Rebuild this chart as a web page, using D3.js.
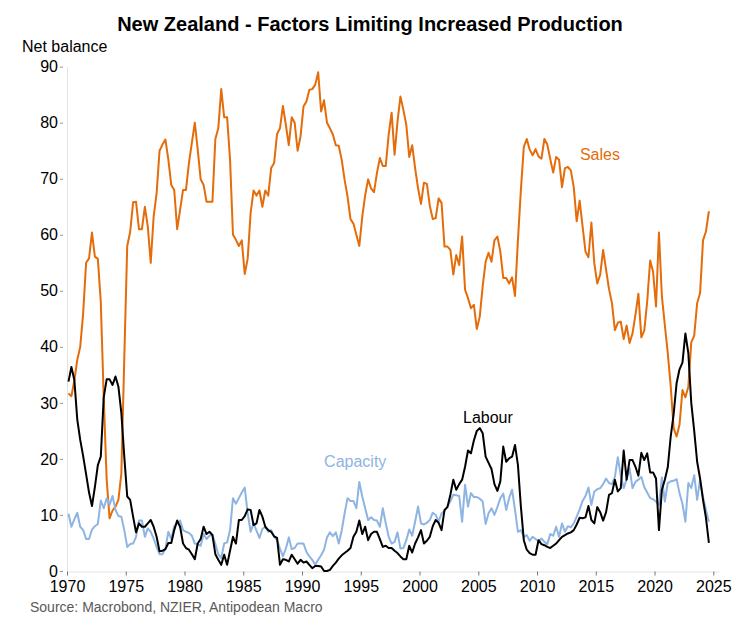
<!DOCTYPE html>
<html>
<head>
<meta charset="utf-8">
<script src="https://cdn.jsdelivr.net/npm/d3@7"></script>
<style>
  html, body { margin: 0; padding: 0; background: #fff; }
  svg { display: block; font-family: "Liberation Sans", Arial, sans-serif; }
</style>
</head>
<body>
<svg id="chart" width="740" height="628"></svg>
<script>
// Quarterly data, 1970 Q1 .. 2024 Q3
const startYear = 1970;
const sales = [
  31.7, 31.2, 34, 37.7,   40, 46, 55, 55.8,   60.4, 56.1, 55.7, 48,   31, 16.3, 9.4, 10.8,
  11.5, 12.7, 17.4, 38,   58, 60.5, 65.8, 65.9,   61, 61, 65, 61.5,   55, 63.3, 67.4, 75,
  76.1, 77, 73.4, 68.9,   68, 61, 64.5, 68,   68, 72.8, 76.4, 80,   75.2, 69.9, 68.9, 65.9,
  65.9, 65.9, 77.1, 79,   86, 81, 81, 73.4,   60, 59.1, 58, 59,   53, 55.7, 63.9, 67.9,
  67, 67.9, 65, 67.9,   67, 71.9, 72.8, 78,   79, 83, 79.6, 76,   81, 80, 75, 77.6,
  82.9, 83.8, 85.9, 86,   86.8, 89, 82, 84,   80, 79, 77.9, 76,   75.9, 73.4, 69.8, 66.8,
  62.8, 62, 60, 58,   63.2, 67.1, 69.9, 68.3,   67.6, 71, 73.7, 72.3,   72.3, 77.9, 81.8, 74.3,
  80.2, 84.7, 82.3, 79.6,   73.9, 76, 71.9, 68.3,   65.5, 69.3, 69.1, 65.2,   62.8, 63, 66.5, 65.7,
  57.9, 57.9, 57.3, 52.9,   56.4, 54.6, 59.7, 50.2,   48.7, 46.9, 47.5, 43.2,   45.4, 50.8, 55.2, 56.8,
  55.2, 59, 59.7, 57,   52.3, 52.3, 51.3, 52.4,   49.1, 59.1, 68, 75.7,   77.1, 75.2, 74.2, 75.3,
  74, 73.6, 77.1, 76.1,   73.5, 71.1, 73.9, 73.4,   68.5, 71.9, 72.1, 71.5,   68.5, 62.4, 66.1, 61.5,
  57, 56, 62.2, 54.9,   51.3, 52.9, 57.3, 53.8,   50.3, 47.8, 43, 44.3,   44.5, 41.4, 43.8, 40.7,
  42.4, 45.7, 49.5, 41.7,   42.9, 48.1, 55.4, 53.4,   47.2, 60.4, 49, 43.9,   38.9, 33, 25.5, 24,
  26.1, 32.3, 31, 32.9,   40.8, 42, 47.8, 49.6,   59, 60.6, 64.2
];
const labour = [
  33.8, 36.4, 34.1, 27,   23.4, 20.5, 17.3, 14,   11.6, 15, 18.9, 20.4,   31, 34.2, 34.2, 33.2,
  34.7, 32.9, 28.2, 20.4,   13.3, 12.7, 9.7, 6.9,   8.5, 7.9, 7.9, 8.5,   9.1, 7.9, 6.1, 3.5,
  3.6, 3.9, 5, 5,   7.3, 9, 7.9, 4.9,   4.1, 3.8, 3, 2.1,   4.9, 5.7, 7.9, 6.6,
  7, 6.4, 3, 2,   1.1, 2.9, 1.1, 3.6,   6.1, 4.9, 9.1, 9.1,   9.8, 11, 10.9, 8.2,
  8.5, 10.9, 9.7, 7.9,   7.3, 7, 6.2, 5.9,   1.1, 2.1, 2, 1.7,   2.9, 2.1, 1.3, 2,
  1.5, 1.7, 1.1, 0.5,   0.9, 0.9, 0.8, 0,   0, 0.2, 0.9, 1.5,   2.2, 2.8, 3.2, 3.6,
  4.1, 6.1, 7, 9,   6.6, 7.9, 5.5, 6.6,   7, 7, 5.7, 4.3,   4.5, 4.1, 4.1, 3.6,
  3.2, 2.6, 2.1, 2.1,   4.5, 3.3, 4.9, 6,   7.3, 4.9, 5.4, 6.1,   8, 9.1, 8.6, 7.3,
  10.9, 11.4, 13.6, 16.3,   14.5, 15.5, 16.3, 18.6,   21.5, 21, 23.3, 25,   25.5, 24.6, 20.4, 19.3,
  18.2, 15.5, 14.3, 16,   22.2, 19.5, 20.1, 20.4,   22.5, 18.9, 11.5, 5.5,   3.8, 3.2, 2.9, 2.9,
  5.5, 4.8, 4.6, 4.3,   4.1, 4.5, 4.9, 5.5,   6.1, 6.4, 6.7, 6.9,   7.3, 8.3, 9.5, 9.4,
  9.6, 11.6, 9.1, 8.5,   11.4, 10.5, 9, 10.5,   13.6, 13.9, 16.3, 14.2,   14.8, 21.5, 16.3, 19.8,
  19.8, 18.6, 17, 21.1,   19.8, 21, 17.6, 17.6,   16.5, 7.3, 14.5, 16.3,   18.5, 24, 28, 33.5,
  36, 37.2, 42.4, 38.9,   30, 25, 19.5, 16.5,   12.7, 9.5, 5
];
const capacity = [
  10.2, 7.9, 9.2, 10.4,   7.9, 7.3, 5.7, 5.7,   7.4, 8, 8.4, 12.6,   11.2, 13, 11.8, 13.4,
  10.9, 9.8, 9.7, 7.3,   4.3, 4.8, 4.9, 6.1,   9, 9, 6.1, 7.6,   7, 5.8, 4.3, 3,
  3, 4, 7, 5.7,   8, 8.5, 9, 7.3,   7, 6.8, 6.3, 4.9,   4.8, 4.5, 6.6, 5.7,
  6.3, 6.5, 4.8, 3,   2.3, 4.9, 5.1, 7.3,   13, 12, 13, 14,   14.9, 10.3, 7, 8.5,
  7.2, 5.9, 7.5, 7.9,   7, 7.3, 6.1, 5.5,   4, 2.6, 4, 6,   3.9, 4.1, 4.9, 4.9,
  4.9, 3.4, 2.6, 2,   1.1, 2, 2.8, 3.8,   6, 6.9, 6.2, 6.9,   4.9, 7.2, 10.3, 13,
  12.5, 12.5, 11.2, 15.9,   13.3, 11.2, 9.1, 9.6,   9.1, 9, 7.9, 11.2,   8.5, 6.1, 4.9, 5.2,
  6.9, 4, 4.1, 5.5,   7.4, 6.3, 8.8, 11.5,   8.5, 8.3, 8.6, 9.1,   10.4, 10, 8.8, 10.3,
  10.7, 11.5, 12.5, 13.6,   13.5, 13.4, 8.8, 15.4,   11.5, 13.9, 13.2, 13.2,   12.9, 12.4, 8.4, 10.3,
  11.2, 10, 11.4, 13,   13.8, 10.9, 13, 14.5,   10.9, 7, 7.3, 6.1,   6.4, 5.4, 6.1, 5.7,
  5.3, 5.8, 5.2, 4.8,   6.6, 6.3, 7.9, 6.1,   8.5, 7, 8, 7.8,   8.5, 9.7, 11, 12.5,
  13.4, 14.9, 11.8, 14.2,   14.6, 14.8, 15.5, 16.5,   15.7, 15.5, 16.8, 20.3,   17, 14.8, 16.4, 18.3,
  14.8, 15.9, 16.3, 16.8,   15, 14, 13, 12.8,   12.4, 11.8, 16.7, 12.4,   15.7, 16, 16.1, 16.4,
  13.9, 12, 8.8, 15.7,   14.8, 17.1, 12.7, 16.3,   13.2, 10.9, 8.8
];
const xTicks = [1970, 1975, 1980, 1985, 1990, 1995, 2000, 2005, 2010, 2015, 2020, 2025];
const yTicks = [0, 10, 20, 30, 40, 50, 60, 70, 80, 90];
const seriesNames = ["Sales", "Capacity", "Labour"];
const seriesColors = ["#E46C0A", "#8DB4E2", "#000000"];

const svg = d3.select("#chart");
const x = d3.scaleLinear().domain([1970, 2025]).range([67, 713.3]);
const y = d3.scaleLinear().domain([0, 90]).range([571, 66.7]);
const t = i => startYear + 0.125 + 0.25 * i;

// Title
svg.append("text").attr("x", 370).attr("y", 31).attr("text-anchor", "middle")
  .attr("font-size", 20).attr("font-weight", "bold").attr("fill", "#000")
  .text("New Zealand - Factors Limiting Increased Production");
svg.append("text").attr("x", 22).attr("y", 52).attr("font-size", 16).attr("fill", "#000")
  .text("Net balance");

// Y axis
const yAxis = svg.append("g").attr("transform", "translate(67,0)")
  .call(d3.axisLeft(y).tickValues(yTicks).tickSize(0).tickPadding(9));
yAxis.select(".domain").attr("stroke", "#e3e3e3");
yAxis.selectAll("text").attr("font-size", 16).attr("fill", "#000")
  .attr("font-family", "Liberation Sans, Arial, sans-serif");
yAxis.selectAll(".tick").append("line").attr("x1", -7).attr("x2", -4)
  .attr("stroke", "#999").attr("stroke-width", 1);

// X axis
const xAxis = svg.append("g").attr("transform", "translate(0,571.5)")
  .call(d3.axisBottom(x).tickValues(xTicks).tickFormat(d3.format("d")).tickSize(4).tickPadding(5));
xAxis.select(".domain").attr("stroke", "#e3e3e3").attr("d", `M${x(1970)},0.5H${x(2025) + 6}`);
xAxis.selectAll(".tick line").attr("stroke", "#777");
xAxis.selectAll("text").attr("font-size", 16).attr("fill", "#000")
  .attr("font-family", "Liberation Sans, Arial, sans-serif");

// Lines
const line = d3.line().x((d, i) => x(t(i))).y(d => y(d)).curve(d3.curveLinear);
const data = [sales, capacity, labour];
data.forEach((arr, k) => {
  svg.append("path").datum(arr).attr("d", line)
    .attr("fill", "none").attr("stroke", seriesColors[k])
    .attr("stroke-width", 2).attr("stroke-linejoin", "round");
});

// Series labels
const labelPos = [[2014.0, 64.8], [2000, 2015.5], [2005.0, 24.8]];
svg.append("text").attr("x", x(2013.65)).attr("y", 159.5).attr("font-size", 16)
  .attr("fill", seriesColors[0]).text(seriesNames[0]);
svg.append("text").attr("x", x(1991.88)).attr("y", 467).attr("font-size", 16)
  .attr("fill", seriesColors[1]).text(seriesNames[1]);
svg.append("text").attr("x", x(2003.7)).attr("y", 423).attr("font-size", 16)
  .attr("fill", seriesColors[2]).text(seriesNames[2]);

// Source
svg.append("text").attr("x", 30).attr("y", 612).attr("font-size", 14).attr("fill", "#595959")
  .text("Source: Macrobond, NZIER, Antipodean Macro");
</script>
</body>
</html>
